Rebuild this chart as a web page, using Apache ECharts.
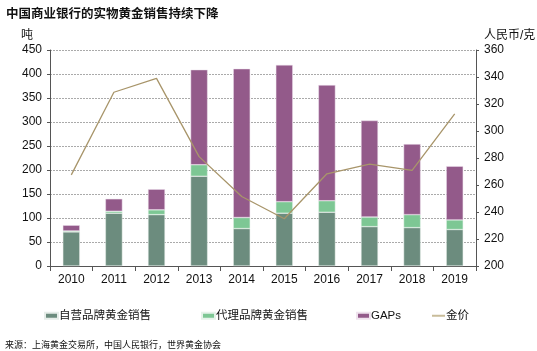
<!DOCTYPE html>
<html>
<head>
<meta charset="utf-8">
<script src="https://cdn.jsdelivr.net/npm/echarts@6/dist/echarts.min.js"></script>
<style>
  html, body { margin: 0; padding: 0; background: #fff; }
  #chart { width: 537px; height: 351px; }
</style>
</head>
<body>
<div id="chart"></div>
<script>
const years = ['2010', '2011', '2012', '2013', '2014', '2015', '2016', '2017', '2018', '2019']
const ownBrand = [71, 110, 107, 187, 78, 110, 112, 82, 80, 76]
const agentBrand = [2, 4, 10, 24, 23, 24, 24, 20, 27, 20]
const gaps = [12, 26, 43, 198, 310, 285, 241, 201, 147, 112]
const goldPrice = [267.5, 328.7, 339, 281, 251.5, 235, 268.3, 275.4, 270.8, 312.7]

const FONT = 'Liberation Sans, Arial, Noto Sans CJK SC, sans-serif'

const legendBase = {
  top: 305,
  icon: 'rect',
  itemWidth: 13,
  itemHeight: 6,
  itemGap: 0,
  textStyle: { fontFamily: FONT, fontSize: 11.5, color: '#111', padding: [0, 0, 0, -4] }
}

const option = {
  animation: false,
  textStyle: { fontFamily: FONT },
  title: [
    {
      text: '中国商业银行的实物黄金销售持续下降',
      left: 1, top: 3,
      textStyle: { fontSize: 12.5, fontWeight: 'bold', color: '#111', fontFamily: FONT }
    },
    {
      text: '吨', left: 16, top: 25,
      textStyle: { fontSize: 12, fontWeight: 'normal', color: '#111', fontFamily: FONT }
    },
    {
      text: '人民币/克', left: 479, top: 25,
      textStyle: { fontSize: 12, fontWeight: 'normal', color: '#111', fontFamily: FONT }
    },
    {
      text: '来源：上海黄金交易所，中国人民银行，世界黄金协会', left: 0, top: 336,
      textStyle: { fontSize: 9, fontWeight: 'normal', color: '#111', fontFamily: FONT }
    }
  ],
  legend: [
    Object.assign({}, legendBase, { left: 39, data: ['自营品牌黄金销售'] }),
    Object.assign({}, legendBase, { left: 196, data: ['代理品牌黄金销售'] }),
    Object.assign({}, legendBase, { left: 351, data: ['GAPs'] }),
    Object.assign({}, legendBase, { left: 427, itemHeight: 2, data: ['金价'] })
  ],
  grid: { left: 50, right: 61, top: 50, bottom: 85 },
  xAxis: {
    type: 'category',
    data: years,
    axisLine: { lineStyle: { color: '#555' } },
    axisTick: { show: true, length: 5, lineStyle: { color: '#555' } },
    axisLabel: { color: '#111', fontSize: 12, margin: 8 }
  },
  yAxis: [
    {
      type: 'value', min: 0, max: 450, interval: 50,
      axisLine: { show: true, lineStyle: { color: '#555' } },
      axisTick: { show: true, length: 3, lineStyle: { color: '#555' } },
      axisLabel: { color: '#111', fontSize: 12, margin: 8 },
      splitLine: { lineStyle: { color: '#aaa', type: [2, 1], width: 1 } }
    },
    {
      type: 'value', min: 200, max: 360, interval: 20,
      axisLine: { show: true, lineStyle: { color: '#555' } },
      axisTick: { show: true, length: 3, lineStyle: { color: '#555' } },
      axisLabel: { color: '#111', fontSize: 12, margin: 8 },
      splitLine: { show: false }
    }
  ],
  series: [
    {
      name: '自营品牌黄金销售', type: 'bar', stack: 'sales', barWidth: 17,
      itemStyle: { color: '#6c8c7e', borderColor: '#e6ede9', borderWidth: 0.5 },
      data: ownBrand
    },
    {
      name: '代理品牌黄金销售', type: 'bar', stack: 'sales', barWidth: 17,
      itemStyle: { color: '#7dc794', borderColor: '#e6f3ea', borderWidth: 0.5 },
      data: agentBrand
    },
    {
      name: 'GAPs', type: 'bar', stack: 'sales', barWidth: 17,
      itemStyle: { color: '#935a8a', borderColor: '#efe3ee', borderWidth: 0.5 },
      data: gaps
    },
    {
      name: '金价', type: 'line', yAxisIndex: 1,
      symbol: 'none',
      lineStyle: { color: '#a8956a', width: 1.3 },
      itemStyle: { color: '#c9bc9a' },
      z: 5,
      data: goldPrice
    }
  ]
}

const chart = echarts.init(document.getElementById('chart'))
chart.setOption(option)
</script>
</body>
</html>
